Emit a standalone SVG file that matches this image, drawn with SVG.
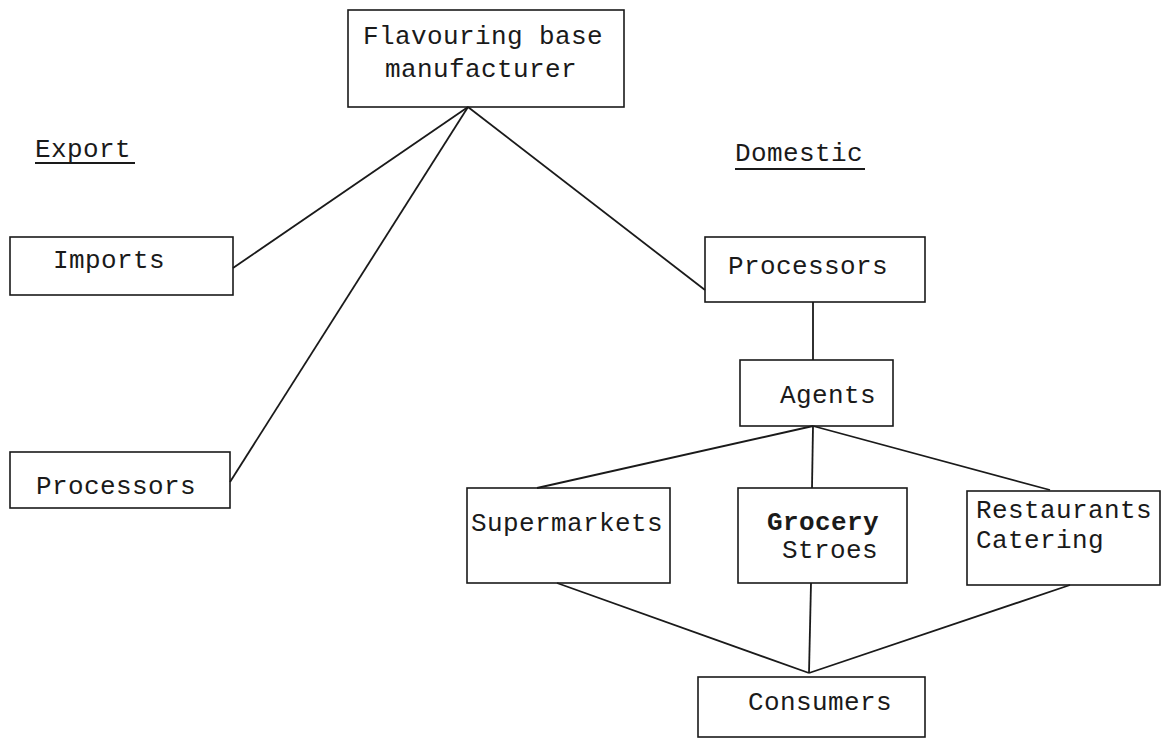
<svg xmlns="http://www.w3.org/2000/svg" width="1163" height="741" viewBox="0 0 1163 741">
<style>
.box{fill:none;stroke:#1a1a1a;stroke-width:1.6}
.ln{stroke:#1a1a1a;stroke-width:1.8;fill:none}
.t{font-family:"Liberation Mono","Courier New",monospace;font-size:26px;fill:#1a1a1a;letter-spacing:0.4px}
.b{font-weight:bold}
.ul{stroke:#1a1a1a;stroke-width:2}
</style>
<rect width="1163" height="741" fill="#fff"/>
<g id="connectors">
<line class="ln" x1="468" y1="107" x2="233" y2="268"/>
<line class="ln" x1="468" y1="107" x2="230" y2="482"/>
<line class="ln" x1="468" y1="107" x2="705" y2="290"/>
<line class="ln" x1="813" y1="302" x2="813" y2="360"/>
<line class="ln" x1="813" y1="426" x2="537" y2="488"/>
<line class="ln" x1="813" y1="426" x2="812" y2="488"/>
<line class="ln" x1="813" y1="426" x2="1050" y2="490"/>
<line class="ln" x1="557" y1="583" x2="809" y2="673"/>
<line class="ln" x1="811" y1="583" x2="809" y2="673"/>
<line class="ln" x1="1070" y1="585" x2="809" y2="673"/>
</g>
<g id="label-export">
<text class="t" x="35" y="157">Export</text>
<line class="ul" x1="35" y1="163" x2="135" y2="163"/>
</g>
<g id="label-domestic">
<text class="t" x="735" y="161">Domestic</text>
<line class="ul" x1="735" y1="169" x2="865" y2="169"/>
</g>
<g id="node-manufacturer">
<rect class="box" x="348" y="10" width="276" height="97"/>
<text class="t" x="363" y="44">Flavouring base</text>
<text class="t" x="385" y="77">manufacturer</text>
</g>
<g id="node-imports">
<rect class="box" x="10" y="237" width="223" height="58"/>
<text class="t" x="53" y="268">Imports</text>
</g>
<g id="node-export-processors">
<rect class="box" x="10" y="452" width="220" height="56"/>
<text class="t" x="36" y="494">Processors</text>
</g>
<g id="node-domestic-processors">
<rect class="box" x="705" y="237" width="220" height="65"/>
<text class="t" x="728" y="274">Processors</text>
</g>
<g id="node-agents">
<rect class="box" x="740" y="360" width="153" height="66"/>
<text class="t" x="780" y="403">Agents</text>
</g>
<g id="node-supermarkets">
<rect class="box" x="467" y="488" width="203" height="95"/>
<text class="t" x="471" y="531">Supermarkets</text>
</g>
<g id="node-grocery">
<rect class="box" x="738" y="488" width="169" height="95"/>
<text class="t b" x="767" y="530">Grocery</text>
<text class="t" x="782" y="558">Stroes</text>
</g>
<g id="node-restaurants">
<rect class="box" x="967" y="491" width="193" height="94"/>
<text class="t" x="976" y="518">Restaurants</text>
<text class="t" x="976" y="548">Catering</text>
</g>
<g id="node-consumers">
<rect class="box" x="698" y="677" width="227" height="60"/>
<text class="t" x="748" y="710">Consumers</text>
</g>
</svg>
